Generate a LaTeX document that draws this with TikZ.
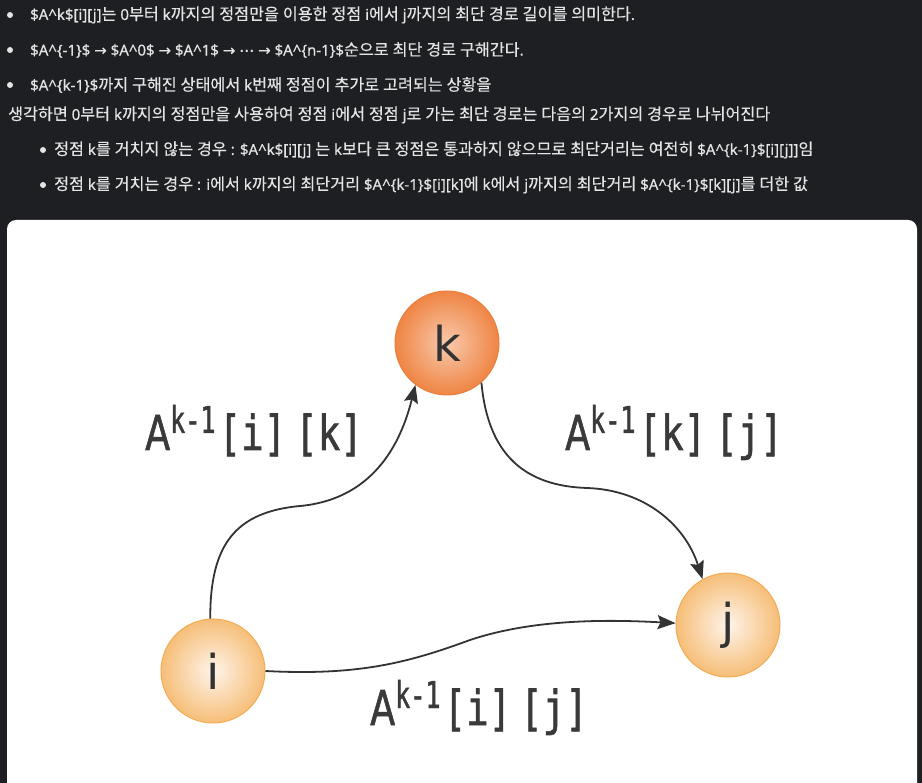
\documentclass[tikz,border=0pt]{standalone}
\usepackage{fontspec}
\usetikzlibrary{arrows.meta}
\newfontfamily\kr[Scale=1.08, FakeBold=0.35]{Noto Sans CJK KR}
\newfontfamily\latinf[FakeBold=0.35]{Noto Sans}
\newfontfamily\dvs[FakeBold=0.35]{DejaVu Sans}
\newfontfamily\labmono[FakeStretch=0.68, FakeBold=1.2]{DejaVu Sans Mono}
\newfontfamily\labbr[FakeStretch=0.78, FakeBold=1.2]{DejaVu Sans Mono}
\newfontfamily\labsans[FakeStretch=0.76, FakeBold=1.2]{DejaVu Sans}
\newfontfamily\nodesans{DejaVu Sans}
% Hangul in the CJK face, everything else in the Latin face
\XeTeXinterchartokenstate=1
\newXeTeXintercharclass\hangulclass
\count255="AC00
\loop
  \XeTeXcharclass\count255=\hangulclass
  \ifnum\count255<"D7A3 \advance\count255 by 1 \repeat
\XeTeXinterchartoks 0 \hangulclass = {\kr}
\XeTeXinterchartoks 4095 \hangulclass = {\kr}
\XeTeXinterchartoks \hangulclass 0 = {\latinf}
\XeTeXinterchartoks \hangulclass 4095 = {\latinf}
\definecolor{bg}{HTML}{1E1F22}
\definecolor{txt}{HTML}{E4E4E4}
\definecolor{ink}{HTML}{333333}
\definecolor{labc}{HTML}{3A3A3A}
\definecolor{kin}{HTML}{F8C9AC}
\definecolor{kout}{HTML}{EF8544}
\definecolor{kbd}{HTML}{E9803F}
\definecolor{pin}{HTML}{FEF4EA}
\definecolor{pout}{HTML}{F6BE78}
\definecolor{pbd}{HTML}{F1AC55}
\newcommand{\lab}[2]{{\labsans A}\raisebox{17pt}{\fontsize{37}{37}\selectfont\labmono k-1}\hspace{3pt}{\labbr[#1]\hspace{9pt}[#2]}}
\newcommand{\dl}{\$}
\newcommand{\crt}{\textasciicircum}
\newcommand{\ar}{{\dvs →}}
\newcommand{\cdt}{{\dvs ⋯}}
\begin{document}
\begin{tikzpicture}[x=1pt,y=-1pt,
  line/.style={anchor=west, inner sep=0, text=txt, font=\fontsize{15}{15}\selectfont\latinf},
  bul/.style={fill=txt},
  vtxk/.style={circle, minimum size=104pt, inner sep=0, draw=kbd, line width=1pt, inner color=kin, outer color=kout, font=\fontsize{48}{48}\selectfont\nodesans, text=ink},
  vtx/.style={circle, minimum size=104pt, inner sep=0, draw=pbd, line width=1pt, inner color=pin, outer color=pout, font=\fontsize{48}{48}\selectfont\nodesans, text=ink},
  edge/.style={draw=ink, line width=1.8pt, -{Stealth[length=18pt,width=14pt,inset=3pt]}},
  lbl/.style={anchor=base west, inner sep=0, text=labc, font=\fontsize{48}{48}\selectfont}]
\useasboundingbox (0,0) rectangle (922,783);
\clip (0,0) rectangle (922,783);
\fill[bg] (0,0) rectangle (922,783);
\fill[white, rounded corners=9pt] (7,220) rectangle (917,810);

% bullets
\fill[bul] (10,15) circle (3);
\fill[bul] (10,50) circle (3);
\fill[bul] (10,85) circle (3);
\fill[bul] (43,150) circle (3);
\fill[bul] (43,185) circle (3);

\node[line] (t1) at (30,15) {\dl A\crt k\dl[i][j]는 0부터 k까지의 정점만을 이용한 정점 i에서 j까지의 최단 경로 길이를 의미한다.};
\node[line] (t2) at (30,50) {\dl A\crt\{-1\}\dl{} \ar{} \dl A\crt 0\dl{} \ar{} \dl A\crt 1\dl{} \ar{} \cdt{} \ar{} \dl A\crt\{n-1\}\dl 순으로 최단 경로 구해간다.};
\node[line] (t3) at (30,85) {\dl A\crt\{k-1\}\dl 까지 구해진 상태에서 k번째 정점이 추가로 고려되는 상황을};
\node[line] (t4) at (8,115) {생각하면 0부터 k까지의 정점만을 사용하여 정점 i에서 정점 j로 가는 최단 경로는 다음의 2가지의 경우로 나뉘어진다};
\node[line] (t5) at (54,150) {정점 k를 거치지 않는 경우 : \dl A\crt k\dl[i][j] 는 k보다 큰 정점은 통과하지 않으므로 최단거리는 여전히 \dl A\crt\{k-1\}\dl[i][j]]임};
\node[line] (t6) at (54,185) {정점 k를 거치는 경우 : i에서 k까지의 최단거리 \dl A\crt\{k-1\}\dl[i][k]에 k에서 j까지의 최단거리 \dl A\crt\{k-1\}\dl[k][j]를 더한 값};

% vertices
\node[vtxk] (k) at (447,343) {k};
\node[vtx] (i) at (213,671) {i};
\node[vtx] (j) at (728,625) {j};

% edges
\draw[edge] (i.93) .. controls (210,545) and (235,512) .. (300,506) .. controls (365,500) and (398,455) .. (k.233);
\draw[edge] (k.-49) .. controls (488,455) and (525,486) .. (587,488) .. controls (645,490) and (685,525) .. (j.119);
\draw[edge] (i.east) .. controls (360,676) and (410,662) .. (470,640) .. controls (530,620) and (600,619) .. (j.178);

% labels
\node[lbl] (l1) at (145,450) {\lab{i}{k}};
\node[lbl] (l2) at (565,450) {\lab{k}{j}};
\node[lbl] (l3) at (370,725) {\lab{i}{j}};
\end{tikzpicture}
\end{document}
